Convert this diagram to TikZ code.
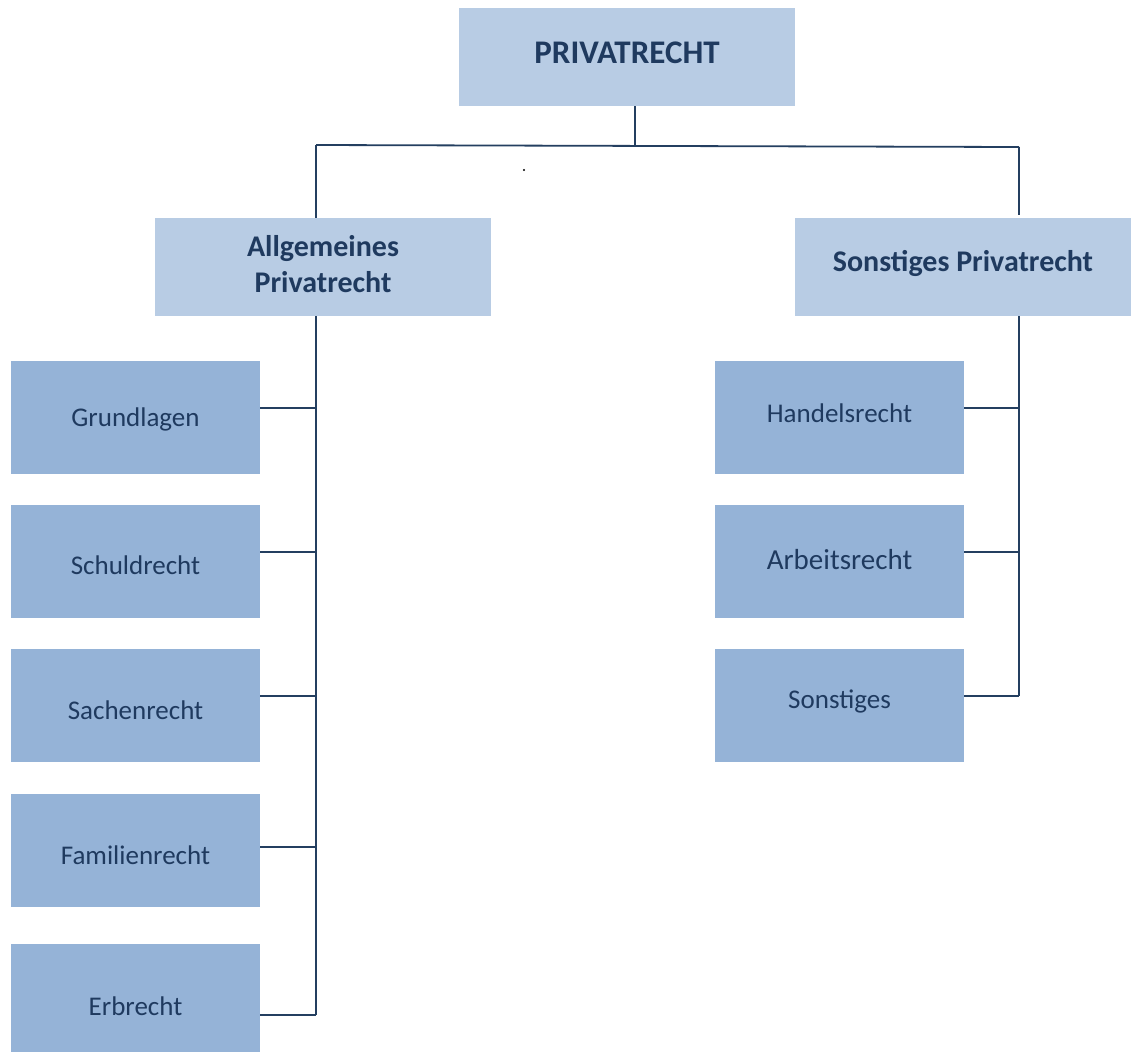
\documentclass[tikz,border=0pt]{standalone}
\usepackage{fontspec}
\setmainfont{Carlito}
\usetikzlibrary{positioning}
\definecolor{paleblue}{RGB}{184,204,228}
\definecolor{midblue}{RGB}{149,179,215}
\definecolor{navytext}{RGB}{31,58,95}
\definecolor{navyline}{RGB}{36,63,96}
\tikzset{
  headbox/.style={fill=paleblue,minimum width=336pt,minimum height=98pt,inner sep=0pt},
  leafbox/.style={fill=midblue,minimum width=249pt,minimum height=113pt,inner sep=0pt},
  headtext/.style={text=navytext,align=center,inner sep=0pt,
    font=\fontsize{30}{36}\selectfont\bfseries},
  leaftext/.style={text=navytext,align=center,inner sep=0pt,
    font=\fontsize{27}{32}\selectfont},
  link/.style={draw=navyline,line width=1.8pt},
}
\begin{document}
\begin{tikzpicture}[x=1pt,y=-1pt]
  \useasboundingbox[fill=white] (0,0) rectangle (1134,1053);
  % headings
  \node[headbox,label={[headtext,font=\fontsize{33}{38}\selectfont\bfseries,yshift=4pt]center:PRIVATRECHT}] (top) at (627,57) {};
  \node[headbox,label={[headtext,yshift=3pt]center:Allgemeines\\Privatrecht}] (allg) at (323,267) {};
  \node[headbox,label={[headtext,yshift=4pt]center:Sonstiges Privatrecht}] (sonst) at (963,267) {};
  % left column
  \node[leafbox,label={[leaftext,yshift=-2pt]center:Grundlagen}] (grund) at (135.5,417.5) {};
  \node[leafbox,label={[leaftext,yshift=-4pt]center:Schuldrecht}] (schuld) at (135.5,561.5) {};
  \node[leafbox,label={[leaftext,yshift=-5pt]center:Sachenrecht}] (sachen) at (135.5,705.5) {};
  \node[leafbox,label={[leaftext,yshift=-5pt]center:Familienrecht}] (familie) at (135.5,850.5) {};
  \node[leafbox,minimum height=108pt,label={[leaftext,yshift=-8pt]center:Erbrecht}] (erb) at (135.5,998) {};
  % right column
  \node[leafbox,label={[leaftext,yshift=4pt]center:Handelsrecht}] (handel) at (839.5,417.5) {};
  \node[leafbox,label={[leaftext,font=\fontsize{29}{34}\selectfont,yshift=2pt]center:Arbeitsrecht}] (arbeit) at (839.5,561.5) {};
  \node[leafbox,label={[leaftext,yshift=4pt]center:Sonstiges}] (sonstig) at (839.5,705.5) {};
  % branch points
  \coordinate (split) at (635,145);
  \coordinate (ltrunk) at (316,145);
  \coordinate (rtrunk) at (1019,147);
  \draw[link] (top.south -| split) -- (split);
  \draw[link] (ltrunk) -- (rtrunk);
  \draw[link] (ltrunk) -- (allg.north -| ltrunk);
  \draw[link] (rtrunk) -- (rtrunk |- 0,215);
  \draw[link] (allg.south -| ltrunk) -- (ltrunk |- 0,1015);
  \draw[link] (sonst.south -| rtrunk) -- (rtrunk |- 0,696);
  \foreach \n/\y in {grund/408,schuld/552,sachen/696,familie/847,erb/1015}
    \draw[link] (\n.east |- 0,\y) -- (ltrunk |- 0,\y);
  \foreach \n/\y in {handel/408,arbeit/552,sonstig/696}
    \draw[link] (\n.east |- 0,\y) -- (rtrunk |- 0,\y);
  \fill[black] (524,170) circle (1.2pt);
\end{tikzpicture}
\end{document}
